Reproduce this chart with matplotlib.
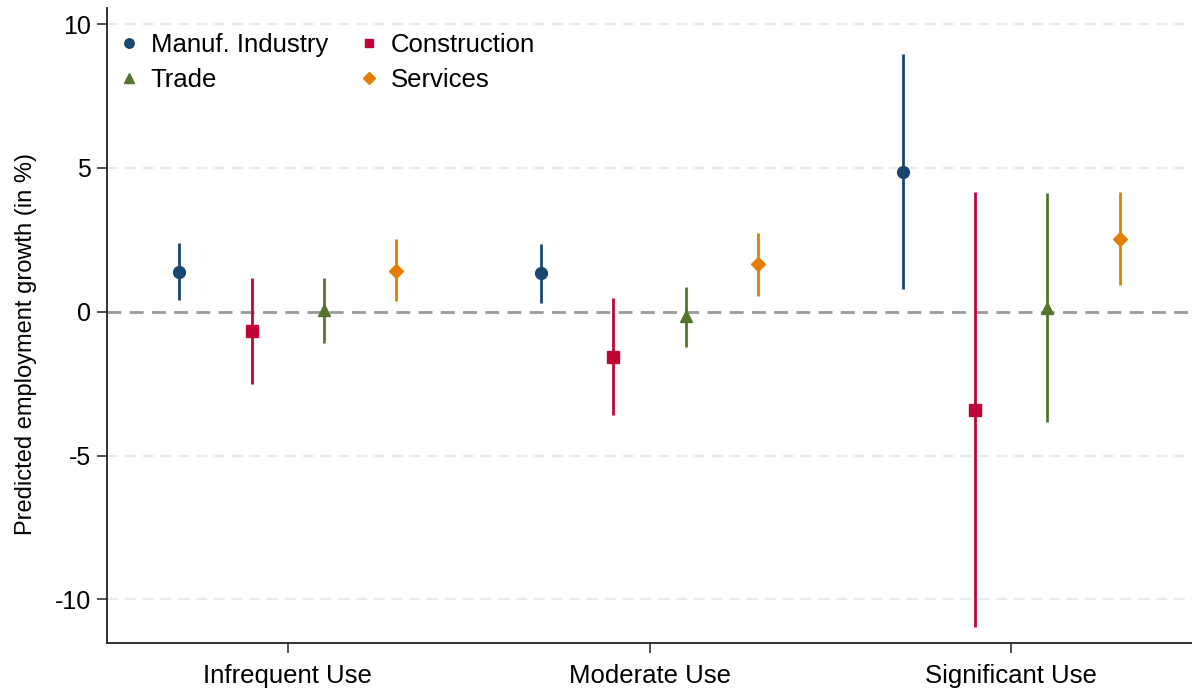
import matplotlib
matplotlib.use("Agg")
import matplotlib.pyplot as plt
import numpy as np

plt.rcParams['font.family'] = ['Liberation Sans', 'DejaVu Sans']

categories = ["Infrequent Use", "Moderate Use", "Significant Use"]
sectors = ["Manuf. Industry", "Construction", "Trade", "Services"]

# point estimates and 95% confidence bounds per sector, across usage categories
manuf_est = [1.39, 1.33, 4.86]
manuf_lo = [0.41, 0.31, 0.78]
manuf_hi = [2.40, 2.35, 8.95]

constr_est = [-0.67, -1.56, -3.41]
constr_lo = [-2.51, -3.59, -10.95]
constr_hi = [1.18, 0.47, 4.15]

trade_est = [0.07, -0.14, 0.13]
trade_lo = [-1.08, -1.22, -3.85]
trade_hi = [1.16, 0.87, 4.13]

serv_est = [1.43, 1.65, 2.54]
serv_lo = [0.37, 0.55, 0.93]
serv_hi = [2.52, 2.75, 4.15]

yticks = [-10, -5, 0, 5, 10]

series = [
    (manuf_est, manuf_lo, manuf_hi, "#1a476f", "o", 8.5),
    (constr_est, constr_lo, constr_hi, "#c10534", "s", 8),
    (trade_est, trade_lo, trade_hi, "#55752f", "^", 9),
    (serv_est, serv_lo, serv_hi, "#e37e00", "D", 7.5),
]
offsets = [-0.3, -0.1, 0.1, 0.3]

fig = plt.figure(figsize=(11.92, 6.89), dpi=100)
ax = fig.add_axes([0.0898, 0.0663, 0.9102, 0.9221])

for yv in yticks:
    if yv == 0:
        ax.axhline(0, color="#9a9a9a", lw=2.0, ls=(0, (5, 3)), zorder=1)
    else:
        ax.axhline(yv, color="#eaeaea", lw=1.6, ls=(0, (5, 3)), zorder=1)

x = np.arange(1, len(categories) + 1)
for (est, lo, hi, col, mk, ms), off, name in zip(series, offsets, sectors):
    xs = x + off
    est = np.array(est)
    lo = np.array(lo)
    hi = np.array(hi)
    ax.vlines(xs, lo, hi, color=col, lw=2.0, zorder=2)
    ax.plot(xs, est, ls="none", marker=mk, color=col, markersize=ms,
            label=name, zorder=3)

ax.set_xlim(0.5, 3.5)
ax.set_ylim(-11.53, 10.56)
ax.set_xticks(x)
ax.set_xticklabels(categories, fontsize=18.5)
ax.set_yticks(yticks)
ax.set_yticklabels([str(v) for v in yticks], fontsize=18)
ax.tick_params(axis="both", length=7.2, width=1.1, color="#222222")
ax.tick_params(axis="y", pad=4.5)
ax.tick_params(axis="x", pad=8)
ax.set_ylabel("Predicted employment growth (in %)", fontsize=17)
ax.yaxis.set_label_coords(-0.065, 0.471)

for s in ["top", "right"]:
    ax.spines[s].set_visible(False)
for s in ["left", "bottom"]:
    ax.spines[s].set_linewidth(1.3)
    ax.spines[s].set_color("#222222")

handles, labels = ax.get_legend_handles_labels()
order = [0, 2, 1, 3]
leg = ax.legend([handles[i] for i in order], [labels[i] for i in order],
                ncol=2, loc="upper left", bbox_to_anchor=(0.006, 0.968),
                fontsize=18.5, frameon=True, facecolor="white", edgecolor="none",
                framealpha=1.0, handlelength=0.8, handletextpad=0.45,
                columnspacing=1.2, labelspacing=0.42, borderpad=0.2,
                borderaxespad=0.0, markerscale=0.8)

fig.savefig("out.png", dpi=100, facecolor="white")
